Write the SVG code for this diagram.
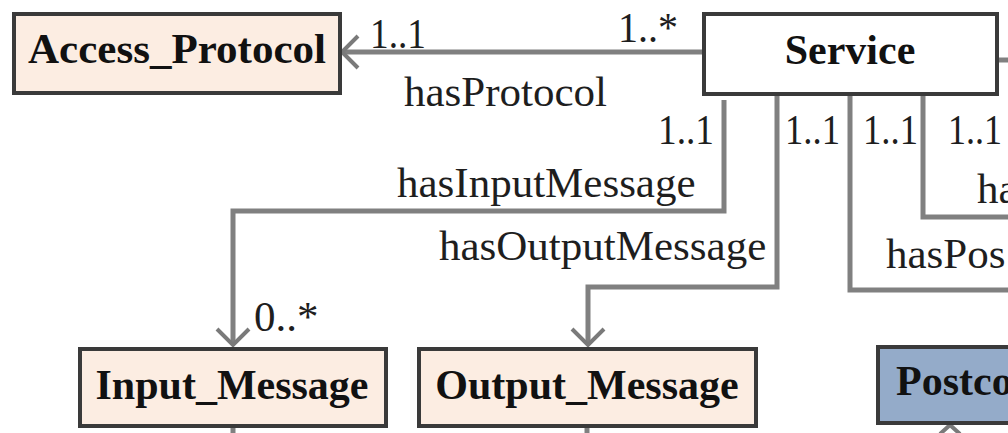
<svg xmlns="http://www.w3.org/2000/svg" width="1008" height="433" viewBox="0 0 1008 433">
  <defs>
    <marker id="open" markerUnits="userSpaceOnUse" viewBox="-20 -20 24 40" refX="0" refY="0" markerWidth="24" markerHeight="40" orient="auto" overflow="visible">
      <path d="M -16 -16 L 0 0 L -16 16" fill="none" stroke="#7a7a7a" stroke-width="4"/>
    </marker>
    <style>
      .box { stroke: #3a3a3a; stroke-width: 4; }
      .cls { fill: #fcede2; }
      .svc { fill: #ffffff; }
      .blue { fill: #94abc9; }
      .name { font-family: "Liberation Serif", "Times New Roman", serif; font-weight: bold; font-size: 42px; fill: #111; }
      .lbl { font-family: "Liberation Serif", "Times New Roman", serif; font-size: 43px; fill: #1e1e1e; }
      .edge { fill: none; stroke: #808080; stroke-width: 5; }
    </style>
  </defs>
  <rect width="1008" height="433" fill="#ffffff"/>

  <g id="connectors">
    <path class="edge" d="M 703 52 L 342 52" marker-end="url(#open)"/>
    <path class="edge" d="M 724 100 L 724 211 L 233 211 L 233 345" marker-end="url(#open)"/>
    <path class="edge" d="M 777 96 L 777 287 L 588 287 L 588 345" marker-end="url(#open)"/>
    <path class="edge" d="M 850 96 L 850 290 L 1010 290"/>
    <path class="edge" d="M 923 96 L 923 217 L 1010 217"/>
    <path class="edge" d="M 997 60 L 1010 60"/>
    <path class="edge" d="M 233 427 L 233 436"/>
    <path class="edge" d="M 587 427 L 587 436"/>
    <path d="M 940 434 L 950 425 L 960 434" fill="none" stroke="#7a7a7a" stroke-width="4"/>

    <text class="lbl" x="370" y="48" textLength="56" lengthAdjust="spacingAndGlyphs">1..1</text>
    <text class="lbl" x="618" y="42" textLength="60" lengthAdjust="spacingAndGlyphs">1..*</text>
    <text class="lbl" x="404" y="106">hasProtocol</text>
    <text class="lbl" x="658" y="144" textLength="56" lengthAdjust="spacingAndGlyphs">1..1</text>
    <text class="lbl" x="397" y="197">hasInputMessage</text>
    <text class="lbl" x="439" y="260">hasOutputMessage</text>
    <text class="lbl" x="785" y="144" textLength="55" lengthAdjust="spacingAndGlyphs">1..1</text>
    <text class="lbl" x="863" y="144" textLength="55" lengthAdjust="spacingAndGlyphs">1..1</text>
    <text class="lbl" x="948" y="144" textLength="54" lengthAdjust="spacingAndGlyphs">1..1</text>
    <text class="lbl" x="977" y="203">ha</text>
    <text class="lbl" x="886" y="268">hasPos</text>
    <text class="lbl" x="254" y="331">0..*</text>
  </g>

  <g id="access_protocol">
    <rect class="box cls" x="14" y="14" width="326" height="79"/>
    <text class="name" x="177" y="63" text-anchor="middle" textLength="298" lengthAdjust="spacingAndGlyphs">Access_Protocol</text>
  </g>

  <g id="service">
    <rect class="box svc" x="704" y="14" width="293" height="80"/>
    <text class="name" x="850" y="64" text-anchor="middle">Service</text>
  </g>

  <g id="input_message">
    <rect class="box cls" x="80" y="349" width="306" height="77"/>
    <text class="name" x="232" y="399" text-anchor="middle">Input_Message</text>
  </g>

  <g id="output_message">
    <rect class="box cls" x="419" y="349" width="337" height="77"/>
    <text class="name" x="587" y="399" text-anchor="middle">Output_Message</text>
  </g>

  <g id="postcondition">
    <rect class="box blue" x="878" y="347" width="140" height="76"/>
    <text class="name" x="896" y="395">Postco</text>
  </g>
</svg>
